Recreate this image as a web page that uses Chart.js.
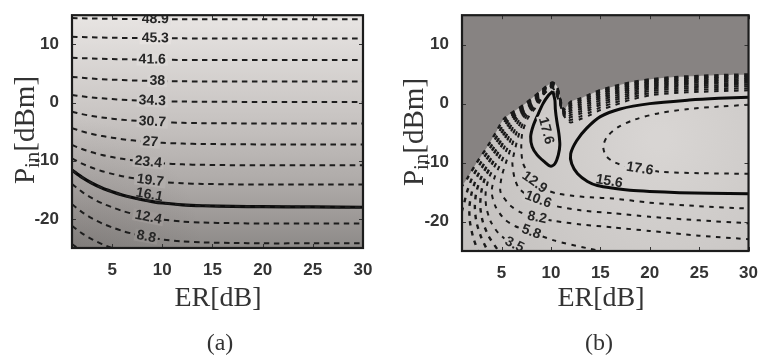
<!DOCTYPE html>
<html><head><meta charset="utf-8">
<script src="https://cdn.jsdelivr.net/npm/chart.js@4.4.1/dist/chart.umd.min.js"></script>
<style>
html,body{margin:0;padding:0;background:#fff;}
#wrap{position:relative;width:762px;height:356px;overflow:hidden;background:#fff;}
canvas{position:absolute;top:0;}
#ca{left:0;}
#cb{left:381px;}
</style></head><body>
<div id="wrap"><canvas id="ca" width="381" height="356"></canvas><canvas id="cb" width="381" height="356"></canvas></div>
<script>
// ---------------- shared ticks ----------------
const xTicks = [5,10,15,20,25,30];
const yTicks = [-20,-10,0,10];

// ---------------- panel (a) ----------------
const erA = [1,2,3,4,5,6,7,8,9,10,12,14,17,20,25,30];
const pinA_48_9 = [14.5,14.46,14.43,14.4,14.38,14.36,14.35,14.34,14.33,14.32,14.31,14.3,14.3,14.3,14.3,14.3];
const pinA_45_3 = [11.3,11.24,11.19,11.15,11.12,11.1,11.08,11.06,11.04,11.03,11.02,11.01,11.0,11.0,11.0,11.0];
const pinA_41_6 = [7.7,7.62,7.56,7.5,7.46,7.43,7.4,7.38,7.36,7.34,7.32,7.31,7.3,7.3,7.3,7.3];
const pinA_38 = [4.4,4.24,4.11,4.01,3.93,3.86,3.8,3.75,3.71,3.68,3.64,3.62,3.61,3.6,3.6,3.6];
const pinA_34_3 = [1.3,1.06,0.87,0.71,0.59,0.48,0.4,0.33,0.27,0.22,0.16,0.13,0.11,0.1,0.1,0.1];
const pinA_30_7 = [-1.6,-2.0,-2.32,-2.58,-2.78,-2.96,-3.1,-3.22,-3.32,-3.4,-3.5,-3.55,-3.58,-3.6,-3.6,-3.6];
const pinA_27 = [-4.4,-4.96,-5.41,-5.77,-6.05,-6.3,-6.5,-6.67,-6.81,-6.92,-7.06,-7.13,-7.17,-7.2,-7.2,-7.2];
const pinA_23_4 = [-7.3,-8.0,-8.56,-9.02,-9.37,-9.68,-9.93,-10.14,-10.31,-10.45,-10.63,-10.71,-10.77,-10.8,-10.8,-10.8];
const pinA_19_7 = [-9.6,-10.5,-11.22,-11.8,-12.26,-12.66,-12.98,-13.25,-13.47,-13.65,-13.88,-13.99,-14.06,-14.1,-14.1,-14.1];
const pinA_16_1 = [-11.6,-12.86,-13.87,-14.69,-15.32,-15.88,-16.33,-16.7,-17.02,-17.27,-17.59,-17.74,-17.84,-17.9,-17.95,-18.0];
const pinA_12_4 = [-14.0,-15.36,-16.45,-17.33,-18.01,-18.62,-19.1,-19.51,-19.85,-20.12,-20.46,-20.63,-20.73,-20.8,-20.8,-20.8];
const pinA_8_8 = [-17.5,-18.84,-19.91,-20.78,-21.45,-22.06,-22.53,-22.93,-23.26,-23.53,-23.87,-24.03,-24.13,-24.2,-24.2,-24.2];
const pinA_5_2 = [-21.2,-22.48,-23.5,-24.34,-24.98,-25.55,-26.0,-26.38,-26.7,-26.96,-27.28,-27.44,-27.54,-27.6,-27.6,-27.6];
const pinA_1_5 = [-24.3,-25.6,-26.6,-27.4,-28.0,-28.6,-29.0,-29.4,-29.7,-29.9,-30.3,-30.5,-30.6,-30.7,-30.7,-30.7];
const thresholdA = [-11.6,-12.86,-13.87,-14.69,-15.32,-15.88,-16.33,-16.7,-17.02,-17.27,-17.59,-17.74,-17.84,-17.9,-17.95,-18.0];
const linesA = [pinA_48_9,pinA_45_3,pinA_41_6,pinA_38,pinA_34_3,pinA_30_7,pinA_27,pinA_23_4,pinA_19_7,pinA_16_1,pinA_12_4,pinA_8_8,pinA_5_2,pinA_1_5];
const levelsA = ['48.9','45.3','41.6','38','34.3','30.7','27','23.4','19.7','16.1','12.4','8.8','',''];
const labelXA = [9.3,9.3,9.0,9.5,9.0,9.0,8.8,8.6,8.8,8.6,8.6,8.4,null,null];

// ---------------- panel (b) ----------------
const pinB_m8_0 = [[30,4.95],[27.5,4.85],[25,4.7],[22.5,4.5],[20,4.1],[18,3.6],[16.5,3.0],[15,2.3],[14,1.6],[13,0.9],[12,0.3],[11.3,-1.0],[10.9,1.0],[10.6,3.0],[10.15,3.6],[9.6,3.0],[7.4,0],[5.3,-2.5],[4.4,-5],[3.5,-7.5],[2.5,-10],[1.6,-12.5],[1.0,-14.0]];
const pinB_m5_7 = [[30,4.7],[27.5,4.6],[25,4.45],[22.5,4.25],[20,3.85],[18,3.33],[16.5,2.7],[15,1.99],[14,1.28],[13,0.58],[12,-0.03],[11.35,-1.22],[10.94,0.68],[10.63,2.68],[10.15,3.5],[9.57,2.85],[7.55,0],[5.56,-2.5],[4.7,-5],[3.85,-7.5],[2.9,-10],[2.05,-12.5],[1.5,-15],[1.2,-17],[1.0,-18.2]];
const pinB_m3_4 = [[30,4.45],[27.5,4.35],[25,4.2],[22.5,4.0],[20,3.6],[18,3.05],[16.5,2.4],[15,1.68],[14,0.95],[13,0.25],[12,-0.35],[11.4,-1.44],[10.98,0.36],[10.66,2.36],[10.15,3.4],[9.54,2.7],[7.7,0],[5.82,-2.5],[5.0,-5],[4.2,-7.5],[3.3,-10],[2.5,-12.5],[2.0,-15],[1.75,-17.5],[1.8,-20],[2.1,-22.5],[2.6,-25]];
const pinB_m1_1 = [[30,4.15],[27.5,4.05],[25,3.9],[22.5,3.7],[20,3.3],[18,2.72],[16.5,2.04],[15,1.3],[14,0.56],[13,-0.14],[12,-0.74],[11.45,-1.66],[11.02,0.04],[10.69,2.04],[10.15,3.3],[9.51,2.55],[7.85,0],[6.08,-2.5],[5.3,-5],[4.55,-7.5],[3.7,-10],[2.95,-12.5],[2.45,-15],[2.3,-17.5],[2.45,-20],[2.9,-22.5],[3.6,-25]];
const pinB_1_2 = [[30,3.85],[27.5,3.75],[25,3.6],[22.5,3.4],[20,3.0],[18,2.39],[16.5,1.68],[15,0.93],[14,0.17],[13,-0.53],[12,-1.13],[11.5,-1.88],[11.06,-0.28],[10.72,1.72],[10.15,3.2],[9.48,2.4],[8.0,0],[6.34,-2.5],[5.6,-5],[4.9,-7.5],[4.1,-10],[3.35,-12.5],[2.95,-15],[2.85,-17.5],[3.1,-20],[3.7,-22.5],[4.7,-25]];
const pinB_3_5 = [[30,3.55],[27.5,3.45],[25,3.3],[22.5,3.1],[20,2.7],[18,2.06],[16.5,1.32],[15,0.55],[14,-0.22],[13,-0.92],[12,-1.52],[11.55,-2.1],[11.1,-0.6],[10.75,1.4],[10.15,3.1],[9.45,2.25],[8.15,0],[6.6,-2.5],[5.9,-5],[5.25,-7.5],[4.5,-10],[3.75,-12.5],[3.4,-15],[3.45,-17.5],[3.9,-20],[4.7,-22],[6.0,-23.7],[7.6,-25]];
const pinB_5_8 = [[30,3.25],[27.5,3.15],[25,3.0],[22.5,2.8],[20,2.4],[18,1.73],[16.5,0.96],[15,0.18],[14,-0.61],[13,-1.31],[12,-1.91],[11.6,-2.32],[11.14,-0.92],[10.78,1.08],[10.15,3.0],[9.42,2.1],[8.3,0],[6.86,-2.5],[6.2,-5],[5.6,-7.5],[4.95,-10],[4.3,-12.5],[4.0,-15],[4.4,-17.5],[5.3,-19.6],[6.4,-20.8],[7.7,-21.6],[10.3,-23.2],[13.6,-24.5],[15,-25]];
const pinB_8_2 = [[30,2.95],[27.5,2.85],[25,2.7],[22.5,2.5],[20,2.1],[18,1.4],[16.5,0.6],[15,-0.2],[14,-1.0],[13,-1.7],[12,-2.3],[11.65,-2.54],[11.18,-1.24],[10.81,0.76],[10.15,2.9],[9.39,1.95],[8.45,0],[7.12,-2.5],[6.5,-5],[5.95,-7.5],[5.45,-10],[5.0,-12.5],[4.9,-15],[5.9,-17.3],[7.0,-18.5],[8.2,-19.2],[10.3,-19.9],[13,-20.5],[16.3,-21],[20,-21.6],[25,-22.4],[30,-23.0]];
const pinB_10_6 = [[30,2.6],[27.5,2.5],[25,2.35],[22.5,2.15],[20,1.75],[18,1.02],[16.5,0.18],[15,-0.64],[14,-1.46],[13,-2.16],[12,-2.76],[11.7,-2.76],[11.22,-1.56],[10.84,0.44],[10.15,2.8],[9.36,1.8],[8.6,0],[7.38,-2.5],[6.8,-5],[6.4,-7.5],[6.1,-10],[6.3,-12.5],[6.7,-14.2],[7.4,-15.3],[8.4,-16.1],[10.3,-17.3],[13,-18.1],[16.3,-18.6],[20,-19.2],[25,-19.8],[30,-20.3]];
const pinB_12_9 = [[30,2.25],[27.5,2.15],[25,2.0],[22.5,1.8],[20,1.4],[18,0.63],[16.5,-0.24],[15,-1.08],[14,-1.91],[13,-2.61],[12,-3.21],[11.75,-2.98],[11.26,-1.88],[10.87,0.12],[10.15,2.7],[9.33,1.65],[8.75,0],[7.65,-2.5],[7.1,-5],[7.0,-7.5],[7.15,-10],[7.9,-12.5],[8.3,-13.3],[9.3,-14.5],[10.5,-15.2],[12,-15.6],[14,-15.9],[16.3,-16.1],[20,-16.8],[25,-17.4],[30,-17.8]];
const pinB_15_6 = [[30,1.1],[27,0.9],[24,0.6],[20,0.0],[17,-0.9],[15,-2.2],[13.6,-4.2],[12.6,-6.3],[12.0,-8.5],[12.1,-10.2],[12.7,-11.9],[13.7,-13.2],[14.7,-13.9],[16.5,-14.4],[18,-14.7],[20,-14.9],[23,-15.1],[26,-15.2],[30,-15.3]];
const pinB_15_6_lobe = [[10.2,2.1],[9.7,1.3],[9.2,0.0],[8.7,-1.8],[8.2,-3.8],[7.95,-5.6],[8.1,-7.3],[8.6,-8.7],[9.3,-9.8],[9.95,-10.6],[10.4,-10.2],[10.75,-8.7],[10.9,-7.0],[10.8,-5.0],[10.6,-3.0],[10.45,-1.0],[10.4,0.6],[10.2,2.1]];
const pinB_17_6 = [[30,-0.2],[27,-0.5],[24,-0.9],[21,-1.6],[18.5,-2.7],[16.8,-4.0],[15.7,-5.6],[15.3,-7.3],[15.6,-8.9],[16.5,-10.0],[18,-10.8],[19.5,-11.2],[21.3,-11.6],[25,-11.8],[30,-11.9]];
const bandB = [pinB_12_9,pinB_10_6,pinB_8_2,pinB_5_8,pinB_3_5,pinB_1_2,pinB_m1_1,pinB_m3_4,pinB_m5_7,pinB_m8_0];
const labelsB = [
  {t:'12.9', line:pinB_12_9, x:8.35, yh:-13.3},
  {t:'10.6', line:pinB_10_6, x:8.7, yh:-16.1},
  {t:'8.2', line:pinB_8_2, x:8.6, yh:-19.2},
  {t:'5.8', line:pinB_5_8, x:8.0, yh:-21.7},
  {t:'3.5', line:pinB_3_5, x:6.3, yh:-23.8},
  {t:'15.6', line:pinB_15_6, x:15.8, yh:-14.2, lift:6},
  {t:'17.6', line:pinB_17_6, x:19.0, yh:-11.1}
];
const lobeLabel = {t:'17.6', x:9.5, y:-4.6, deg:75};

// ---------------- helpers ----------------
const FONT_TICK = "'Liberation Sans', Arial, sans-serif";
const LABEL_FONT = "bold 14px 'Liberation Sans', Arial, sans-serif";
const SERIF = "'Liberation Serif', 'Times New Roman', serif";

function baseOptions(L){
  return {
    responsive:false, animation:false, devicePixelRatio:1, events:[],
    layout:{padding:{top:L.top,right:L.right,left:0,bottom:0}},
    plugins:{legend:{display:false},tooltip:{enabled:false}},
    elements:{point:{radius:0,hoverRadius:0}},
    scales:{
      x:{type:'linear',min:1,max:30,
         afterBuildTicks:s=>{s.ticks=xTicks.map(v=>({value:v}));},
         afterFit:s=>{s.height=L.xH;},
         grid:{display:false},border:{display:false},
         ticks:{color:'#333',padding:4,maxRotation:0,autoSkip:false,font:{family:FONT_TICK,size:17,weight:'bold'}}},
      y:{type:'linear',min:-25,max:15,
         afterBuildTicks:s=>{s.ticks=yTicks.map(v=>({value:v}));},
         afterFit:s=>{s.width=L.yW;},
         grid:{display:false},border:{display:false},
         ticks:{color:'#333',padding:5,autoSkip:false,font:{family:FONT_TICK,size:17,weight:'bold'}}}
    }
  };
}

function onLine(chart, pts, xv, yh){
  const X=chart.scales.x, Y=chart.scales.y;
  let best=null;
  for(let i=0;i<pts.length-1;i++){
    const [x1,y1]=pts[i],[x2,y2]=pts[i+1];
    if(x1===x2) continue;
    if(xv<Math.min(x1,x2)||xv>Math.max(x1,x2)) continue;
    const y=y1+(y2-y1)*(xv-x1)/(x2-x1);
    if(!best||Math.abs(y-yh)<Math.abs(best.y-yh)){
      let ang=Math.atan2(Y.getPixelForValue(y2)-Y.getPixelForValue(y1),X.getPixelForValue(x2)-X.getPixelForValue(x1));
      if(ang>Math.PI/2) ang-=Math.PI; if(ang<-Math.PI/2) ang+=Math.PI;
      best={y,ang};
    }
  }
  return best;
}

function sampleBg(ctx,x,y){
  let best=null,bl=-1;
  const offs=[[0,-10],[0,10],[-22,0],[22,0],[0,-14],[0,14]];
  for(const [dx,dy] of offs){
    try{
      const d=ctx.getImageData(Math.round(x+dx),Math.round(y+dy),1,1).data;
      const l=d[0]+d[1]+d[2];
      if(l>bl){bl=l;best=`rgb(${d[0]},${d[1]},${d[2]})`;}
    }catch(e){}
  }
  return best||'#ccc';
}

function drawLabels(chart, items){
  const ctx=chart.ctx, X=chart.scales.x, Y=chart.scales.y;
  const prepared=items.map(it=>{
    const px=X.getPixelForValue(it.x), py=Y.getPixelForValue(it.y);
    return {...it,px,py,bg:sampleBg(ctx,px,py)};
  });
  const a=chart.chartArea;
  ctx.save();
  ctx.beginPath();ctx.rect(a.left,a.top,a.width,a.height);ctx.clip();
  for(const it of prepared){
    ctx.save();
    ctx.translate(it.px,it.py);ctx.rotate(it.ang);ctx.translate(0,-(it.lift||0));
    ctx.font=LABEL_FONT;
    const w=ctx.measureText(it.t).width;
    if(!it.lift){ctx.fillStyle=it.bg;ctx.fillRect(-w/2-2,-6,w+4,12);}
    ctx.fillStyle='#262626';ctx.textAlign='center';ctx.textBaseline='middle';
    ctx.fillText(it.t,0,0);
    ctx.restore();
  }
  ctx.restore();
}

function drawFrame(chart){
  const ctx=chart.ctx,a=chart.chartArea,X=chart.scales.x,Y=chart.scales.y;
  ctx.save();
  ctx.strokeStyle='#333';ctx.lineWidth=1;
  ctx.beginPath();
  xTicks.forEach(v=>{const p=Math.round(X.getPixelForValue(v))+0.5;ctx.moveTo(p,a.bottom);ctx.lineTo(p,a.bottom-4);ctx.moveTo(p,a.top);ctx.lineTo(p,a.top+4);});
  yTicks.forEach(v=>{const p=Math.round(Y.getPixelForValue(v))+0.5;ctx.moveTo(a.left,p);ctx.lineTo(a.left+4,p);ctx.moveTo(a.right,p);ctx.lineTo(a.right-4,p);});
  ctx.stroke();
  ctx.strokeStyle='#1c1c1c';ctx.lineWidth=2.2;
  ctx.strokeRect(a.left,a.top,a.width,a.height);
  ctx.restore();
}

function drawTitles(chart,T){
  const ctx=chart.ctx;
  ctx.save();
  ctx.fillStyle='#333';
  ctx.font='28px '+SERIF;ctx.textAlign='center';ctx.textBaseline='alphabetic';
  ctx.fillText('ER[dB]',T.xTitleX,306);
  // y title with subscript
  ctx.translate(T.yBase,T.yMid);ctx.rotate(-Math.PI/2);
  ctx.textAlign='left';
  ctx.font='29px '+SERIF;const wP=ctx.measureText('P').width;const wR=ctx.measureText('[dBm]').width;
  ctx.font='21px '+SERIF;const wI=ctx.measureText('in').width;
  let x0=-(wP+wI+wR)/2;
  ctx.font='29px '+SERIF;ctx.fillText('P',x0,0);
  ctx.font='21px '+SERIF;ctx.fillText('in',x0+wP,5);
  ctx.font='29px '+SERIF;ctx.fillText('[dBm]',x0+wP+wI,0);
  ctx.restore();
  ctx.save();
  ctx.fillStyle='#333';ctx.font='24px '+SERIF;ctx.textAlign='center';ctx.textBaseline='alphabetic';
  ctx.fillText(T.caption,T.capX,350);
  ctx.restore();
}

// ---------------- chart (a) ----------------
const dsA = linesA.map(ys=>({
  data: erA.map((x,j)=>({x,y:ys[j]})),
  borderColor:'#1d1d1d',borderWidth:2,borderDash:[5.5,4.5],tension:0.3,pointRadius:0,fill:false
}));
dsA.push({data:erA.map((x,j)=>({x,y:thresholdA[j]})),borderColor:'#0c0c0c',borderWidth:3.2,tension:0.3,pointRadius:0,fill:false});

const plugA = {
  id:'panelA',
  beforeDatasetsDraw(chart){
    const ctx=chart.ctx,a=chart.chartArea;
    ctx.save();
    const g=ctx.createLinearGradient(0,a.top,0,a.bottom);
    g.addColorStop(0,'#e8e5e3');g.addColorStop(0.45,'#c7c3c1');g.addColorStop(0.75,'#aba7a5');g.addColorStop(1,'#8d8a88');
    ctx.fillStyle=g;ctx.fillRect(a.left,a.top,a.width,a.height);
    const r=ctx.createRadialGradient(a.left,a.bottom,5,a.left,a.bottom,130);
    r.addColorStop(0,'rgba(70,64,62,0.18)');r.addColorStop(1,'rgba(70,64,62,0)');
    ctx.fillStyle=r;ctx.fillRect(a.left,a.top,a.width,a.height);
    ctx.restore();
  },
  afterDatasetsDraw(chart){
    const items=[];
    linesA.forEach((ys,i)=>{
      if(labelXA[i]==null) return;
      const pts=erA.map((x,j)=>[x,ys[j]]);
      const r=onLine(chart,pts,labelXA[i],ys[8]);
      items.push({t:levelsA[i],x:labelXA[i],y:r.y,ang:r.ang,lift:levelsA[i]==='16.1'?6:0});
    });
    drawLabels(chart,items);
    drawFrame(chart);
  },
  afterDraw(chart){drawTitles(chart,{xTitleX:218,yBase:34,yMid:130,caption:'(a)',capX:220});}
};

new Chart(document.getElementById('ca'),{
  type:'line',
  data:{datasets:dsA},
  options:baseOptions({top:9,right:18,xH:108,yW:72}),
  plugins:[plugA]
});

// ---------------- chart (b) ----------------
const toXY = pts=>pts.map(([x,y])=>({x,y}));
const dsB = [
  {data:toXY(pinB_15_6),borderColor:'#0c0c0c',borderWidth:3,tension:0.3,pointRadius:0,fill:false},
  {data:toXY(pinB_15_6_lobe),borderColor:'#0c0c0c',borderWidth:3,tension:0.3,pointRadius:0,fill:false},
  {data:toXY(pinB_17_6),borderColor:'#1d1d1d',borderWidth:2,borderDash:[4.5,5.5],tension:0.3,pointRadius:0,fill:false}
];
bandB.forEach((pts,k)=>{
  dsB.push({data:toXY(pts),borderColor:'#1a1a1a',borderWidth:k>=5?2.4:2,borderDash:[4.5,5.5],tension:0.25,pointRadius:0,fill:false});
});
const outerIdx = dsB.length-1;

const plugB = {
  id:'panelB',
  beforeDatasetsDraw(chart){
    const ctx=chart.ctx,a=chart.chartArea,X=chart.scales.x,Y=chart.scales.y;
    ctx.save();
    ctx.beginPath();ctx.rect(a.left,a.top,a.width,a.height);ctx.clip();
    ctx.fillStyle='#878382';ctx.fillRect(a.left,a.top,a.width,a.height);
    ctx.beginPath();
    let ok=false;
    try{const m=chart.getDatasetMeta(outerIdx);m.dataset.updateControlPoints&&m.dataset.updateControlPoints(a,'x');m.dataset.path(ctx);ok=true;}catch(e){ok=false;}
    if(!ok){ctx.beginPath();pinB_m8_0.forEach(([x,y],i)=>{const px=X.getPixelForValue(x),py=Y.getPixelForValue(y);i?ctx.lineTo(px,py):ctx.moveTo(px,py);});}
    ctx.lineTo(X.getPixelForValue(1),Y.getPixelForValue(-25));
    ctx.lineTo(X.getPixelForValue(30),Y.getPixelForValue(-25));
    ctx.closePath();
    const cx=X.getPixelForValue(21),cy=Y.getPixelForValue(-6);
    const g=ctx.createRadialGradient(cx,cy,10,cx,cy,230);
    g.addColorStop(0,'#d8d5d3');g.addColorStop(1,'#c2bfbd');
    ctx.fillStyle=g;ctx.fill();
    ctx.restore();
  },
  afterDatasetsDraw(chart){
    const items=labelsB.map(L=>{const r=onLine(chart,L.line,L.x,L.yh);return {t:L.t,x:L.x,y:r.y,ang:r.ang,lift:L.lift||0};});
    items.push({t:lobeLabel.t,x:lobeLabel.x,y:lobeLabel.y,ang:lobeLabel.deg*Math.PI/180,lift:0});
    drawLabels(chart,items);
    drawFrame(chart);
  },
  afterDraw(chart){drawTitles(chart,{xTitleX:220,yBase:42,yMid:132,caption:'(b)',capX:218});}
};

new Chart(document.getElementById('cb'),{
  type:'line',
  data:{datasets:dsB},
  options:baseOptions({top:13,right:11,xH:105,yW:81}),
  plugins:[plugB]
});
</script>
</body></html>
